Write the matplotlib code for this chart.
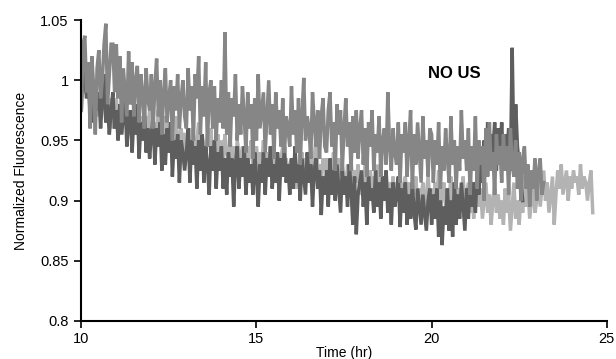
import numpy as np
import matplotlib
matplotlib.use("Agg")
import matplotlib.pyplot as plt

plt.rcParams['font.family'] = ['Liberation Sans', 'DejaVu Sans']

# values, one reading every 0.05 hr starting at 10 hr
# (one row = one hour)
dark = [0.975, 1.02, 1.0, 0.985, 1.01, 0.97, 0.995, 0.965, 1.0, 0.975, 0.99, 0.96, 0.985, 1.005, 0.965, 0.98, 0.955, 0.975, 0.99, 0.96,
        0.975, 0.95, 0.98, 0.955, 0.97, 0.985, 0.945, 0.965, 0.975, 0.94, 0.97, 0.955, 0.98, 0.935, 0.965, 0.95, 0.975, 0.94, 0.96, 0.935,
        0.955, 0.97, 0.93, 0.96, 0.945, 0.965, 0.925, 0.955, 0.93, 0.96, 0.94, 0.965, 0.92, 0.95, 0.935, 0.955, 0.915, 0.95, 0.94, 0.925,
        0.94, 0.96, 0.915, 0.95, 0.93, 0.945, 0.91, 0.95, 0.925, 0.955, 0.915, 0.945, 0.93, 0.905, 0.945, 0.925, 0.95, 0.91, 0.94, 0.925,
        0.945, 0.91, 0.935, 0.905, 0.94, 0.92, 0.935, 0.895, 0.93, 0.945, 0.91, 0.935, 0.92, 0.945, 0.905, 0.935, 0.915, 0.93, 0.905, 0.94,
        0.92, 0.895, 0.93, 0.915, 0.94, 0.905, 0.935, 0.92, 0.945, 0.91, 0.93, 0.915, 0.94, 0.9, 0.935, 0.92, 0.945, 0.915, 0.93, 0.905,
        0.935, 0.91, 0.945, 0.915, 0.93, 0.9, 0.935, 0.92, 0.905, 0.94, 0.915, 0.93, 0.895, 0.925, 0.935, 0.91, 0.925, 0.888, 0.92, 0.905,
        0.925, 0.895, 0.935, 0.905, 0.925, 0.9, 0.93, 0.91, 0.89, 0.925, 0.905, 0.92, 0.895, 0.93, 0.91, 0.88, 0.92, 0.872, 0.905, 0.915,
        0.925, 0.895, 0.915, 0.88, 0.92, 0.9, 0.91, 0.89, 0.925, 0.895, 0.915, 0.885, 0.92, 0.9, 0.925, 0.89, 0.91, 0.88, 0.915, 0.895,
        0.905, 0.92, 0.878, 0.91, 0.89, 0.915, 0.88, 0.905, 0.885, 0.915, 0.89, 0.876, 0.91, 0.895, 0.88, 0.905, 0.89, 0.875, 0.9, 0.91,
        0.88, 0.905, 0.885, 0.91, 0.87, 0.9, 0.863, 0.895, 0.88, 0.91, 0.875, 0.9, 0.87, 0.915, 0.88, 0.905, 0.885, 0.915, 0.895, 0.875,
        0.91, 0.885, 0.92, 0.895, 0.915, 0.89, 0.925, 0.905, 0.94, 0.915, 0.95, 0.925, 0.965, 0.93, 0.955, 0.94, 0.965, 0.925, 0.96, 0.935,
        0.965, 0.93, 0.955, 0.94, 0.96, 0.925, 1.027, 0.935, 0.98, 0.945, 0.93, 0.915, 0.9]

medium = [0.975, 1.03, 1.037, 0.99, 1.015, 0.96, 1.02, 0.995, 0.955, 1.01, 1.025, 0.985, 1.0, 1.03, 1.047, 0.98, 1.005, 1.03, 1.03, 0.99,
          1.03, 0.985, 1.02, 0.965, 1.01, 0.99, 0.97, 1.024, 0.98, 1.015, 0.97, 1.0, 1.012, 0.965, 1.005, 0.99, 0.96, 1.01, 0.985, 0.975,
          1.005, 0.96, 0.995, 1.018, 0.97, 1.0, 0.955, 0.99, 1.01, 0.965, 0.985, 1.0, 0.95, 0.995, 0.975, 1.005, 0.96, 0.985, 1.0, 0.97,
          0.96, 1.01, 0.975, 0.995, 0.95, 1.005, 0.985, 1.02, 0.955, 0.995, 0.97, 1.015, 0.945, 0.99, 1.0, 0.96, 0.995, 0.95, 0.985, 0.965,
          1.0, 0.96, 1.04, 0.955, 0.99, 0.945, 0.985, 0.97, 1.005, 0.95, 0.98, 0.955, 0.995, 0.97, 0.94, 0.99, 0.96, 0.98, 0.935, 0.985,
          0.95, 1.005, 0.96, 0.975, 0.99, 0.94, 0.97, 1.0, 0.955, 0.98, 0.935, 0.99, 0.96, 0.975, 0.945, 0.985, 0.94, 0.97, 0.96, 0.945,
          0.995, 0.955, 0.975, 0.94, 0.985, 0.93, 0.97, 1.002, 0.95, 0.97, 0.96, 0.935, 0.99, 0.965, 0.945, 0.975, 0.935, 0.97, 0.985, 0.945,
          0.94, 0.975, 0.99, 0.945, 0.965, 0.925, 0.98, 0.955, 0.975, 0.925, 0.96, 0.985, 0.945, 0.965, 0.925, 0.97, 0.94, 0.975, 0.935, 0.96,
          0.975, 0.93, 0.96, 0.92, 0.965, 0.945, 0.975, 0.925, 0.955, 0.94, 0.97, 0.92, 0.95, 0.96, 0.93, 0.99, 0.945, 0.925, 0.96, 0.94,
          0.93, 0.965, 0.915, 0.955, 0.94, 0.965, 0.92, 0.95, 0.975, 0.91, 0.955, 0.93, 0.965, 0.94, 0.915, 0.97, 0.935, 0.95, 0.92, 0.96,
          0.955, 0.915, 0.95, 0.93, 0.965, 0.91, 0.945, 0.925, 0.96, 0.935, 0.915, 0.97, 0.93, 0.95, 0.91, 0.945, 0.925, 0.975, 0.935, 0.95,
          0.925, 0.96, 0.905, 0.945, 0.925, 0.97, 0.91, 0.95, 0.93, 0.945, 0.9, 0.96, 0.92, 0.965, 0.925, 0.94, 0.905, 0.955, 0.93, 0.945,
          0.915, 0.955, 0.925, 0.945, 0.905, 0.96, 0.93, 0.92, 0.95, 0.91, 0.94, 0.9, 0.935, 0.945, 0.91, 0.93, 0.895, 0.925, 0.91, 0.935,
          0.9, 0.925, 0.935, 0.905, 0.915]

light = [1.0, 1.01, 0.99, 1.005, 0.985, 1.0, 0.98, 0.995, 0.975, 0.99, 0.97, 0.985, 0.975, 0.99, 0.965, 0.98, 0.97, 0.985, 0.96, 0.975,
         0.985, 0.965, 0.975, 0.955, 0.98, 0.97, 0.96, 0.975, 0.965, 0.955, 0.97, 0.96, 0.975, 0.95, 0.965, 0.97, 0.955, 0.97, 0.96, 0.975,
         0.97, 0.95, 0.965, 0.955, 0.975, 0.945, 0.96, 0.97, 0.95, 0.965, 0.955, 0.94, 0.96, 0.95, 0.97, 0.945, 0.955, 0.96, 0.94, 0.955,
         0.955, 0.94, 0.96, 0.945, 0.955, 0.935, 0.95, 0.965, 0.94, 0.955, 0.945, 0.93, 0.955, 0.945, 0.96, 0.935, 0.95, 0.94, 0.955, 0.935,
         0.95, 0.935, 0.955, 0.94, 0.93, 0.95, 0.935, 0.945, 0.925, 0.95, 0.94, 0.93, 0.945, 0.935, 0.92, 0.945, 0.935, 0.95, 0.925, 0.94,
         0.945, 0.925, 0.94, 0.93, 0.95, 0.92, 0.94, 0.93, 0.945, 0.915, 0.935, 0.925, 0.94, 0.92, 0.935, 0.945, 0.925, 0.935, 0.915, 0.93,
         0.935, 0.92, 0.94, 0.91, 0.93, 0.925, 0.94, 0.915, 0.935, 0.92, 0.93, 0.945, 0.92, 0.935, 0.955, 0.925, 0.93, 0.915, 0.935, 0.925,
         0.935, 0.915, 0.93, 0.92, 0.94, 0.91, 0.925, 0.935, 0.915, 0.93, 0.92, 0.905, 0.93, 0.92, 0.935, 0.91, 0.925, 0.915, 0.93, 0.905,
         0.925, 0.91, 0.93, 0.915, 0.9, 0.925, 0.91, 0.92, 0.905, 0.93, 0.915, 0.9, 0.92, 0.91, 0.925, 0.9, 0.915, 0.905, 0.92, 0.895,
         0.915, 0.905, 0.925, 0.895, 0.91, 0.92, 0.9, 0.915, 0.89, 0.91, 0.905, 0.92, 0.895, 0.91, 0.9, 0.915, 0.89, 0.905, 0.92, 0.9,
         0.91, 0.895, 0.915, 0.9, 0.925, 0.89, 0.905, 0.915, 0.895, 0.91, 0.9, 0.92, 0.89, 0.905, 0.915, 0.895, 0.91, 0.9, 0.92, 0.895,
         0.905, 0.915, 0.89, 0.91, 0.885, 0.905, 0.92, 0.895, 0.91, 0.885, 0.9, 0.915, 0.89, 0.905, 0.88, 0.9, 0.915, 0.89, 0.905, 0.885,
         0.9, 0.88, 0.91, 0.89, 0.905, 0.875, 0.895, 0.915, 0.885, 0.9, 0.88, 0.905, 0.89, 0.92, 0.895, 0.91, 0.885, 0.9, 0.915, 0.89,
         0.9, 0.92, 0.895, 0.91, 0.925, 0.9, 0.915, 0.89, 0.905, 0.92, 0.88, 0.905, 0.925, 0.91, 0.93, 0.905, 0.915, 0.925, 0.9, 0.92,
         0.91, 0.925, 0.915, 0.92, 0.905, 0.93, 0.91, 0.92, 0.915, 0.9, 0.915, 0.925, 0.89]

x_ticks = [10, 15, 20, 25]
y_ticks = [0.8, 0.85, 0.9, 0.95, 1.0, 1.05]
y_labels = ["0.8", "0.85", "0.9", "0.95", "1", "1.05"]

t_dark = 10 + 0.05 * np.arange(len(dark))
t_medium = 10 + 0.05 * np.arange(len(medium))
t_light = 10 + 0.05 * np.arange(len(light))

fig = plt.figure(figsize=(6.16, 3.59), dpi=100)
ax = fig.add_axes([0.132, 0.106, 0.853, 0.838])

ax.plot(t_light, light, color="#b3b3b3", lw=2.5, solid_joinstyle="miter")
ax.plot(t_dark, dark, color="#5e5e5e", lw=2.5, solid_joinstyle="miter")
ax.plot(t_medium, medium, color="#868686", lw=2.5, solid_joinstyle="miter")

ax.text(19.9, 1.006, "NO US", fontsize=12, fontweight="bold", va="center")

ax.set_xlim(10, 25)
ax.set_ylim(0.8, 1.05)
ax.set_xticks(x_ticks)
ax.set_yticks(y_ticks)
ax.set_yticklabels(y_labels)
ax.tick_params(labelsize=10.5, length=5, width=1.2)
ax.tick_params(axis="y", pad=4)
ax.tick_params(axis="x", pad=3)

ax.spines["top"].set_visible(False)
ax.spines["right"].set_visible(False)
ax.spines["left"].set_linewidth(1.5)
ax.spines["bottom"].set_linewidth(1.5)

ax.set_xlabel("Time (hr)", fontsize=10, labelpad=0)
ax.set_ylabel("Normalized Fluorescence", fontsize=10, labelpad=9)

plt.savefig("out.png", dpi=100)
